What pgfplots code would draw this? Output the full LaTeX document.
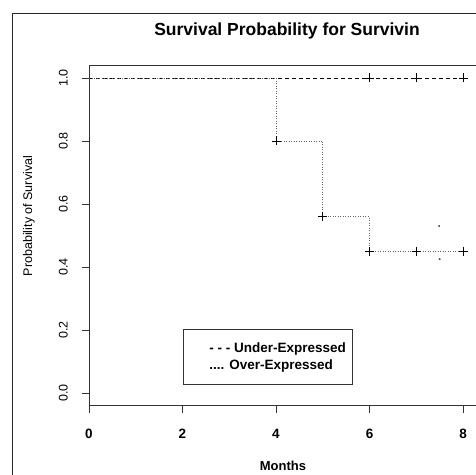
\documentclass[border=0pt]{standalone}
\usepackage{pgfplots}
\pgfplotsset{compat=1.18}
\usepackage{fontspec}
\setmainfont{Liberation Sans}
\begin{document}
\begin{tikzpicture}[x=1pt,y=1pt]
\useasboundingbox (0,0) rectangle (476,474);
\draw[black!85, line width=1pt] (12,-5) -- (12,460) -- (490,460);
\node[font=\bfseries\fontsize{17.5}{20}\selectfont, anchor=base] at (287,438) {Survival Probability for Survivin};
\node[rotate=90, font=\fontsize{12.5}{14}\selectfont] at (29,258) {Probability of Survival};
\node[font=\bfseries\fontsize{13}{15}\selectfont] at (283,8) {Months};
\begin{axis}[
  at={(89pt,68.4pt)}, anchor=south west, scale only axis,
  width=392.7pt, height=340.2pt,
  xmin=0, xmax=8.4, ymin=-0.04, ymax=1.04,
  xtick={0,2,4,6,8}, ytick={0,0.2,0.4,0.6,0.8,1.0},
  tick align=outside, tick pos=left, major tick length=7pt,
  /pgf/number format/assume math mode=true,
  axis line style={black!80, line width=0.9pt},
  every tick/.style={black!80, line width=0.9pt},
  yticklabel style={/pgf/number format/fixed, /pgf/number format/fixed zerofill, /pgf/number format/precision=1, rotate=90, anchor=south, inner ysep=14pt, font=\fontsize{12.5}{14}\selectfont},
  xticklabel style={font=\bfseries\fontsize{13.5}{15}\selectfont, anchor=north, yshift=-13pt},
  legend style={at={(axis cs:2.01,0.203)}, anchor=north west, draw=black!80, line width=0.7pt,
    inner xsep=4pt, inner ysep=11pt, font=\bfseries\fontsize{13.5}{15}\selectfont, row sep=2pt},
  legend cell align=left,
]
\addplot[black, dash pattern=on 4pt off 3pt, line width=0.7pt, forget plot] coordinates {(0,1) (8,1)};
\addplot[black!60, dash pattern=on 1pt off 1.5pt, line width=0.8pt, const plot, forget plot] coordinates {(0,1) (4,0.8) (5,0.56) (6,0.448) (8,0.448)};
\addplot[only marks, mark=+, mark size=4.5pt, black, line width=0.8pt, forget plot] coordinates {(6,1) (7,1) (8,1)};
\addplot[only marks, mark=+, mark size=4.5pt, black, line width=0.8pt, forget plot] coordinates {(4,0.8) (5,0.56) (6,0.448) (7,0.448) (8,0.448)};
\addplot[only marks, mark=*, mark size=0.8pt, black!70, forget plot] coordinates {(7.49,0.53) (7.5,0.425)};
\addlegendimage{legend image code/.code={\path[draw=none] (0pt,0pt) -- (20pt,0pt);}}
\addlegendentry{- - - Under-Expressed}
\addlegendimage{legend image code/.code={\path[draw=none] (0pt,0pt) -- (20pt,0pt);}}
\addlegendentry{.... Over-Expressed}
\end{axis}
\end{tikzpicture}
\end{document}
